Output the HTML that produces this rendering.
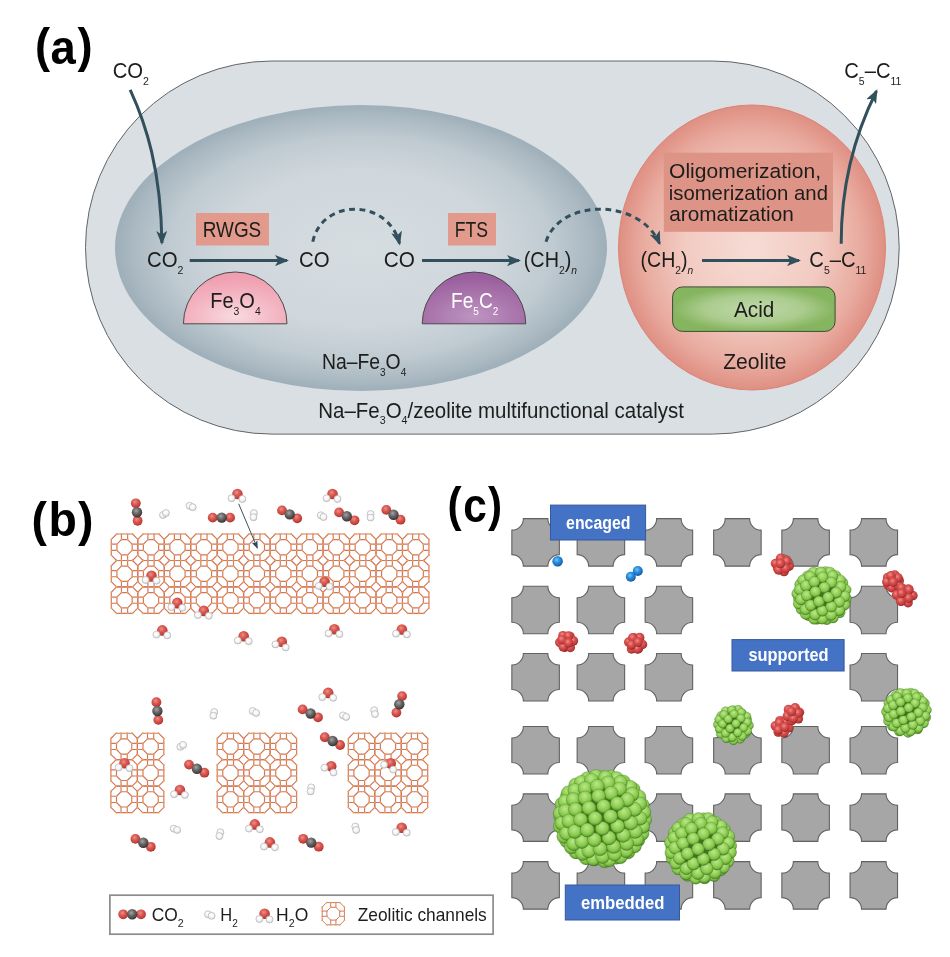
<!DOCTYPE html>
<html lang="en">
<head>
<meta charset="utf-8">
<title>Zeolite catalyst figure</title>
<style>
html,body{margin:0;padding:0;background:#fff;}
body{width:950px;height:957px;overflow:hidden;font-family:"Liberation Sans","DejaVu Sans",sans-serif;}
svg{display:block;}
</style>
</head>
<body>
<svg width="950" height="957" viewBox="0 0 950 957">
<defs>
<radialGradient id="gInner" cx="0.5" cy="0.5" r="0.5" fx="0.5" fy="0.5">
 <stop offset="0" stop-color="#d6dde1"/><stop offset="0.55" stop-color="#cfd7dc"/><stop offset="0.78" stop-color="#bfcad1"/><stop offset="0.92" stop-color="#acbac3"/><stop offset="1" stop-color="#9eafb9"/>
</radialGradient>
<radialGradient id="gRed" cx="0.5" cy="0.5" r="0.5">
 <stop offset="0" stop-color="#f6dcd5"/><stop offset="0.5" stop-color="#f2cbc2"/><stop offset="0.82" stop-color="#e9ab9f"/><stop offset="1" stop-color="#df8f83"/>
</radialGradient>
<radialGradient id="gPink" cx="0.5" cy="0.85" r="0.75">
 <stop offset="0" stop-color="#f9d9df"/><stop offset="0.6" stop-color="#f3b3c0"/><stop offset="1" stop-color="#ef9fb0"/>
</radialGradient>
<radialGradient id="gPurple" cx="0.5" cy="0.85" r="0.75">
 <stop offset="0" stop-color="#bd94c0"/><stop offset="0.6" stop-color="#a873ab"/><stop offset="1" stop-color="#9a5f9e"/>
</radialGradient>
<radialGradient id="gGreen" cx="0.5" cy="0.5" r="0.5" gradientTransform="translate(0.5 0.5) scale(1 1) translate(-0.5 -0.5)">
 <stop offset="0" stop-color="#bfd8a9"/><stop offset="0.6" stop-color="#abcc8e"/><stop offset="1" stop-color="#86b55f"/>
</radialGradient>
<marker id="ah" viewBox="0 0 14 11" refX="12" refY="5.5" markerWidth="14" markerHeight="11" markerUnits="userSpaceOnUse" orient="auto">
 <path d="M0 0 L14 5.5 L0 11 L3.4 5.5 Z" fill="#32505c"/>
</marker>

<radialGradient id="gO" cx="0.42" cy="0.36" r="0.62">
 <stop offset="0" stop-color="#ea9088"/><stop offset="0.5" stop-color="#d8554e"/><stop offset="0.85" stop-color="#c6403b"/><stop offset="1" stop-color="#a8302c"/>
</radialGradient>
<radialGradient id="gC" cx="0.42" cy="0.36" r="0.62">
 <stop offset="0" stop-color="#a5a3a3"/><stop offset="0.5" stop-color="#676565"/><stop offset="0.85" stop-color="#4a4848"/><stop offset="1" stop-color="#333131"/>
</radialGradient>
<radialGradient id="gH" cx="0.45" cy="0.4" r="0.6">
 <stop offset="0" stop-color="#ffffff"/><stop offset="0.5" stop-color="#f6f6f6"/><stop offset="0.85" stop-color="#e2e2e2"/><stop offset="1" stop-color="#c4c4c4"/>
</radialGradient>
<g id="zc"><path d="M5.29 0L21.18 0M21.18 0L26.47 5.29M26.47 5.29L26.47 21.18M26.47 21.18L21.18 26.47M21.18 26.47L5.29 26.47M5.29 26.47L0 21.18M0 21.18L0 5.29M0 5.29L5.29 0M10.14 5.61L16.33 5.61M16.33 5.61L20.86 10.14M20.86 10.14L20.86 16.33M20.86 16.33L16.33 20.86M16.33 20.86L10.14 20.86M10.14 20.86L5.61 16.33M5.61 16.33L5.61 10.14M5.61 10.14L10.14 5.61M10.14 0L10.14 5.61M16.33 0L16.33 5.61M0 10.14L5.61 10.14M0 16.33L5.61 16.33M10.14 26.47L10.14 20.86M16.33 26.47L16.33 20.86M26.47 10.14L20.86 10.14M26.47 16.33L20.86 16.33" fill="none" stroke="#cf7563" stroke-width="1.15" stroke-linecap="round"/><path d="M0 5.29h0.01M0 10.14h0.01M0 16.33h0.01M0 21.18h0.01M5.29 0h0.01M5.29 26.47h0.01M5.61 10.14h0.01M5.61 16.33h0.01M10.14 0h0.01M10.14 5.61h0.01M10.14 20.86h0.01M10.14 26.47h0.01M16.33 0h0.01M16.33 5.61h0.01M16.33 20.86h0.01M16.33 26.47h0.01M20.86 10.14h0.01M20.86 16.33h0.01M21.18 0h0.01M21.18 26.47h0.01M26.47 5.29h0.01M26.47 10.14h0.01M26.47 16.33h0.01M26.47 21.18h0.01" fill="none" stroke="#f2a336" stroke-width="1.7" stroke-linecap="round"/></g>
<marker id="ahs" viewBox="0 0 8 6" refX="7" refY="3" markerWidth="8" markerHeight="6" markerUnits="userSpaceOnUse" orient="auto">
 <path d="M0 0 L8 3 L0 6 L1.6 3 Z" fill="#2f4957"/>
</marker>

<radialGradient id="sG" cx="0.48" cy="0.41" r="0.62" fx="0.45" fy="0.32">
 <stop offset="0" stop-color="#bae88a"/><stop offset="0.4" stop-color="#9dd765"/><stop offset="0.66" stop-color="#88c84e"/><stop offset="0.82" stop-color="#6eae3a"/><stop offset="0.94" stop-color="#4c8425"/><stop offset="1" stop-color="#2f5a14"/>
</radialGradient>
<radialGradient id="sR" cx="0.42" cy="0.36" r="0.66">
 <stop offset="0" stop-color="#ee8f8a"/><stop offset="0.42" stop-color="#d8504e"/><stop offset="0.75" stop-color="#c23d3d"/><stop offset="0.92" stop-color="#a02a2c"/><stop offset="1" stop-color="#7a1a1d"/>
</radialGradient>
<radialGradient id="sB" cx="0.42" cy="0.36" r="0.66">
 <stop offset="0" stop-color="#74c4f6"/><stop offset="0.42" stop-color="#2a8fe0"/><stop offset="0.8" stop-color="#1a6cbd"/><stop offset="1" stop-color="#0e4785"/>
</radialGradient>
<path id="blk" d="M-12.25 -23.75H12.25A11.5 11.5 0 0 0 23.75 -12.25V12.25A11.5 11.5 0 0 0 12.25 23.75H-12.25A11.5 11.5 0 0 0 -23.75 12.25V-12.25A11.5 11.5 0 0 0 -12.25 -23.75Z" fill="#a6a6a6" stroke="#626262" stroke-width="1.1"/>
</defs>
<rect x="0" y="0" width="950" height="957" fill="#ffffff"/>
<g id="panel-a" font-family="'Liberation Sans','DejaVu Sans',sans-serif">
<rect x="85.5" y="61" width="813.7" height="373.1" rx="186.5" ry="186.5" fill="#d9dfe3" stroke="#636466" stroke-width="1"/>
<ellipse cx="361" cy="248" rx="246" ry="143" fill="url(#gInner)"/>
<ellipse cx="752" cy="247.5" rx="133.5" ry="142.5" fill="url(#gRed)" stroke="#dc8476" stroke-width="1"/>
<rect x="196" y="213" width="73" height="32.5" fill="#e19a8b"/>
<rect x="448" y="213" width="48" height="32.5" fill="#e19a8b"/>
<rect x="663.8" y="152.7" width="169.2" height="79.1" fill="#dd9386"/>
<path d="M183.4 323.8 A51.8 51.8 0 0 1 287 323.8 Z" fill="url(#gPink)" stroke="#4a4a4a" stroke-width="1"/>
<path d="M422.2 323.8 A51.8 51.8 0 0 1 525.8 323.8 Z" fill="url(#gPurple)" stroke="#4a4a4a" stroke-width="1"/>
<rect x="672.6" y="286.9" width="162.5" height="44.5" rx="10" ry="10" fill="url(#gGreen)" stroke="#3f4a3a" stroke-width="1"/>
<g fill="none" stroke="#32505c" stroke-width="3">
<path d="M130.2 89.8 C146 124 161 170 161.9 243" marker-end="url(#ah)"/>
<path d="M189.7 260.6 H287" marker-end="url(#ah)"/>
<path d="M422 260.6 H519" marker-end="url(#ah)"/>
<path d="M702 260.6 H799" marker-end="url(#ah)"/>
<path d="M841.2 243.7 C841 190 852 140 876.5 91" marker-end="url(#ah)"/>
<path d="M312.8 241.7 C322 198 388 198 399.5 243.5" stroke-dasharray="5.8 4.6" marker-end="url(#ah)"/>
<path d="M546 241.7 C560 198 640 198 659.5 243.5" stroke-dasharray="5.8 4.6" marker-end="url(#ah)"/>
</g>
<text transform="translate(112.69 78.3) scale(0.9127 1)" font-size="22.2" fill="#1d1d1b">CO<tspan font-size="11.54" dy="6.66">2</tspan></text>
<text transform="translate(844.29 77.9) scale(0.9092 1)" font-size="22.2" fill="#1d1d1b">C<tspan font-size="11.54" dy="6.66">5</tspan><tspan dy="-6.66">–C</tspan><tspan font-size="11.54" dy="6.66">11</tspan></text>
<text transform="translate(146.98 267) scale(0.9179 1)" font-size="22.2" fill="#1d1d1b">CO<tspan font-size="11.54" dy="6.66">2</tspan></text>
<text transform="translate(298.98 267) scale(0.9186 1)" font-size="22.2" fill="#1d1d1b" >CO</text>
<text transform="translate(383.86 267) scale(0.9346 1)" font-size="22.2" fill="#1d1d1b" >CO</text>
<text transform="translate(523.76 267) scale(0.8915 1)" font-size="22.2" fill="#1d1d1b">(CH<tspan font-size="11.54" dy="6.66">2</tspan><tspan dy="-6.66">)</tspan><tspan font-size="11.54" font-style="italic" dy="6.66">n</tspan></text>
<text transform="translate(640.48 267) scale(0.8828 1)" font-size="22.2" fill="#1d1d1b">(CH<tspan font-size="11.54" dy="6.66">2</tspan><tspan dy="-6.66">)</tspan><tspan font-size="11.54" font-style="italic" dy="6.66">n</tspan></text>
<text transform="translate(809.29 267) scale(0.9109 1)" font-size="22.2" fill="#1d1d1b">C<tspan font-size="11.54" dy="6.66">5</tspan><tspan dy="-6.66">–C</tspan><tspan font-size="11.54" dy="6.66">11</tspan></text>
<text transform="translate(202.74 237.1) scale(0.8523 1)" font-size="22.2" fill="#1d1d1b" >RWGS</text>
<text transform="translate(454.64 237.1) scale(0.7948 1)" font-size="22.2" fill="#1d1d1b" >FTS</text>
<text transform="translate(210.25 308.1) scale(0.9006 1)" font-size="22.2" fill="#1d1d1b">Fe<tspan font-size="11.54" dy="6.66">3</tspan><tspan dy="-6.66">O</tspan><tspan font-size="11.54" dy="6.66">4</tspan></text>
<text transform="translate(451.02 308.1) scale(0.8633 1)" font-size="22.2" fill="#ffffff">Fe<tspan font-size="11.54" dy="6.66">5</tspan><tspan dy="-6.66">C</tspan><tspan font-size="11.54" dy="6.66">2</tspan></text>
<text transform="translate(321.9 369) scale(0.8723 1)" font-size="22.2" fill="#1d1d1b">Na–Fe<tspan font-size="11.54" dy="6.66">3</tspan><tspan dy="-6.66">O</tspan><tspan font-size="11.54" dy="6.66">4</tspan></text>
<text transform="translate(318.31 417.5) scale(0.9224 1)" font-size="22.2" fill="#1d1d1b">Na–Fe<tspan font-size="11.54" dy="6.66">3</tspan><tspan dy="-6.66">O</tspan><tspan font-size="11.54" dy="6.66">4</tspan><tspan dy="-6.66">/zeolite multifunctional catalyst</tspan></text>
<text transform="translate(669.1 177.5) scale(1.0363 1)" font-size="20.3" fill="#1d1d1b" >Oligomerization,</text>
<text transform="translate(668.73 199.5) scale(1.0015 1)" font-size="20.3" fill="#1d1d1b" >isomerization and</text>
<text transform="translate(669.22 221.2) scale(1.0232 1)" font-size="20.3" fill="#1d1d1b" >aromatization</text>
<text transform="translate(733.95 316.7) scale(0.9344 1)" font-size="22.2" fill="#1d1d1b" >Acid</text>
<text transform="translate(723.21 369) scale(0.9502 1)" font-size="22.2" fill="#1d1d1b" >Zeolite</text>
</g>
<text transform="scale(0.9514 1)" x="36.9 53.12 81.43" y="62.36 63.79 62.36" font-size="47.75" font-weight="bold" fill="#000" font-family="'Liberation Sans','DejaVu Sans',sans-serif">(a)</text>
<g id="panel-b">
<use href="#zc" x="111.3" y="534"/><use href="#zc" x="137.77" y="534"/><use href="#zc" x="164.24" y="534"/><use href="#zc" x="190.71" y="534"/><use href="#zc" x="217.18" y="534"/><use href="#zc" x="243.65" y="534"/><use href="#zc" x="270.12" y="534"/><use href="#zc" x="296.59" y="534"/><use href="#zc" x="323.06" y="534"/><use href="#zc" x="349.53" y="534"/><use href="#zc" x="376" y="534"/><use href="#zc" x="402.47" y="534"/><use href="#zc" x="111.3" y="560.47"/><use href="#zc" x="137.77" y="560.47"/><use href="#zc" x="164.24" y="560.47"/><use href="#zc" x="190.71" y="560.47"/><use href="#zc" x="217.18" y="560.47"/><use href="#zc" x="243.65" y="560.47"/><use href="#zc" x="270.12" y="560.47"/><use href="#zc" x="296.59" y="560.47"/><use href="#zc" x="323.06" y="560.47"/><use href="#zc" x="349.53" y="560.47"/><use href="#zc" x="376" y="560.47"/><use href="#zc" x="402.47" y="560.47"/><use href="#zc" x="111.3" y="586.94"/><use href="#zc" x="137.77" y="586.94"/><use href="#zc" x="164.24" y="586.94"/><use href="#zc" x="190.71" y="586.94"/><use href="#zc" x="217.18" y="586.94"/><use href="#zc" x="243.65" y="586.94"/><use href="#zc" x="270.12" y="586.94"/><use href="#zc" x="296.59" y="586.94"/><use href="#zc" x="323.06" y="586.94"/><use href="#zc" x="349.53" y="586.94"/><use href="#zc" x="376" y="586.94"/><use href="#zc" x="402.47" y="586.94"/>
<use href="#zc" x="110.9" y="733.2"/><use href="#zc" x="137.37" y="733.2"/><use href="#zc" x="110.9" y="759.67"/><use href="#zc" x="137.37" y="759.67"/><use href="#zc" x="110.9" y="786.14"/><use href="#zc" x="137.37" y="786.14"/>
<use href="#zc" x="217.2" y="733.2"/><use href="#zc" x="243.67" y="733.2"/><use href="#zc" x="270.14" y="733.2"/><use href="#zc" x="217.2" y="759.67"/><use href="#zc" x="243.67" y="759.67"/><use href="#zc" x="270.14" y="759.67"/><use href="#zc" x="217.2" y="786.14"/><use href="#zc" x="243.67" y="786.14"/><use href="#zc" x="270.14" y="786.14"/>
<use href="#zc" x="348.3" y="733.2"/><use href="#zc" x="374.77" y="733.2"/><use href="#zc" x="401.24" y="733.2"/><use href="#zc" x="348.3" y="759.67"/><use href="#zc" x="374.77" y="759.67"/><use href="#zc" x="401.24" y="759.67"/><use href="#zc" x="348.3" y="786.14"/><use href="#zc" x="374.77" y="786.14"/><use href="#zc" x="401.24" y="786.14"/>
<path d="M238.7 503.8 L257.3 548" fill="none" stroke="#3a5361" stroke-width="1" marker-end="url(#ahs)"/>
<circle cx="135.8" cy="503.3" r="4.9" fill="url(#gO)"/><circle cx="137.6" cy="520.8" r="4.9" fill="url(#gO)"/><circle cx="137" cy="512.2" r="5.2" fill="url(#gC)"/>
<circle cx="163" cy="515" r="3.5" fill="url(#gH)" stroke="#b2b2b2" stroke-width="0.65"/><circle cx="165.9" cy="513" r="3.5" fill="url(#gH)" stroke="#b2b2b2" stroke-width="0.65"/>
<circle cx="189.5" cy="505.8" r="3.5" fill="url(#gH)" stroke="#b2b2b2" stroke-width="0.65"/><circle cx="192.7" cy="507.2" r="3.5" fill="url(#gH)" stroke="#b2b2b2" stroke-width="0.65"/>
<circle cx="212.7" cy="517.6" r="4.9" fill="url(#gO)"/><circle cx="230.1" cy="517.6" r="4.9" fill="url(#gO)"/><circle cx="221.7" cy="517.6" r="5.2" fill="url(#gC)"/>
<circle cx="237.4" cy="494" r="5.3" fill="url(#gO)"/><circle cx="231.5" cy="498.2" r="3.5" fill="url(#gH)" stroke="#b2b2b2" stroke-width="0.65"/><circle cx="242.4" cy="498.9" r="3.5" fill="url(#gH)" stroke="#b2b2b2" stroke-width="0.65"/>
<circle cx="253.9" cy="513.1" r="3.5" fill="url(#gH)" stroke="#b2b2b2" stroke-width="0.65"/><circle cx="253.5" cy="517.2" r="3.5" fill="url(#gH)" stroke="#b2b2b2" stroke-width="0.65"/>
<circle cx="282" cy="510.4" r="4.9" fill="url(#gO)"/><circle cx="297.2" cy="518.3" r="4.9" fill="url(#gO)"/><circle cx="289.7" cy="514.4" r="5.2" fill="url(#gC)"/>
<circle cx="332.5" cy="494" r="5.3" fill="url(#gO)"/><circle cx="326.6" cy="498.2" r="3.5" fill="url(#gH)" stroke="#b2b2b2" stroke-width="0.65"/><circle cx="337.5" cy="498.9" r="3.5" fill="url(#gH)" stroke="#b2b2b2" stroke-width="0.65"/>
<circle cx="320.8" cy="515.3" r="3.5" fill="url(#gH)" stroke="#b2b2b2" stroke-width="0.65"/><circle cx="323.5" cy="517" r="3.5" fill="url(#gH)" stroke="#b2b2b2" stroke-width="0.65"/>
<circle cx="339.1" cy="512.4" r="4.9" fill="url(#gO)"/><circle cx="354.5" cy="520.3" r="4.9" fill="url(#gO)"/><circle cx="346.8" cy="516.3" r="5.2" fill="url(#gC)"/>
<circle cx="370.6" cy="514" r="3.5" fill="url(#gH)" stroke="#b2b2b2" stroke-width="0.65"/><circle cx="370.6" cy="517.6" r="3.5" fill="url(#gH)" stroke="#b2b2b2" stroke-width="0.65"/>
<circle cx="386.3" cy="509.9" r="4.9" fill="url(#gO)"/><circle cx="400.5" cy="519.7" r="4.9" fill="url(#gO)"/><circle cx="393.5" cy="514.7" r="5.2" fill="url(#gC)"/>
<circle cx="151.5" cy="575.8" r="5.3" fill="url(#gO)"/><circle cx="145.6" cy="580" r="3.5" fill="url(#gH)" stroke="#b2b2b2" stroke-width="0.65"/><circle cx="156.5" cy="580.7" r="3.5" fill="url(#gH)" stroke="#b2b2b2" stroke-width="0.65"/>
<circle cx="177.3" cy="602.9" r="5.3" fill="url(#gO)"/><circle cx="171.4" cy="607.1" r="3.5" fill="url(#gH)" stroke="#b2b2b2" stroke-width="0.65"/><circle cx="182.3" cy="607.8" r="3.5" fill="url(#gH)" stroke="#b2b2b2" stroke-width="0.65"/>
<circle cx="203.8" cy="610.9" r="5.3" fill="url(#gO)"/><circle cx="197.9" cy="615.1" r="3.5" fill="url(#gH)" stroke="#b2b2b2" stroke-width="0.65"/><circle cx="208.8" cy="615.8" r="3.5" fill="url(#gH)" stroke="#b2b2b2" stroke-width="0.65"/>
<circle cx="162.3" cy="630.4" r="5.3" fill="url(#gO)"/><circle cx="156.4" cy="634.6" r="3.5" fill="url(#gH)" stroke="#b2b2b2" stroke-width="0.65"/><circle cx="167.3" cy="635.3" r="3.5" fill="url(#gH)" stroke="#b2b2b2" stroke-width="0.65"/>
<circle cx="243.7" cy="636.3" r="5.3" fill="url(#gO)"/><circle cx="237.8" cy="640.5" r="3.5" fill="url(#gH)" stroke="#b2b2b2" stroke-width="0.65"/><circle cx="248.7" cy="641.2" r="3.5" fill="url(#gH)" stroke="#b2b2b2" stroke-width="0.65"/>
<circle cx="324.6" cy="581.7" r="5.3" fill="url(#gO)"/><circle cx="318.7" cy="585.9" r="3.5" fill="url(#gH)" stroke="#b2b2b2" stroke-width="0.65"/><circle cx="329.6" cy="586.6" r="3.5" fill="url(#gH)" stroke="#b2b2b2" stroke-width="0.65"/>
<circle cx="334.4" cy="629.2" r="5.3" fill="url(#gO)"/><circle cx="328.5" cy="633.4" r="3.5" fill="url(#gH)" stroke="#b2b2b2" stroke-width="0.65"/><circle cx="339.4" cy="634.1" r="3.5" fill="url(#gH)" stroke="#b2b2b2" stroke-width="0.65"/>
<circle cx="401.9" cy="629.5" r="5.3" fill="url(#gO)"/><circle cx="396" cy="633.7" r="3.5" fill="url(#gH)" stroke="#b2b2b2" stroke-width="0.65"/><circle cx="406.9" cy="634.4" r="3.5" fill="url(#gH)" stroke="#b2b2b2" stroke-width="0.65"/>
<circle cx="281.8" cy="641.7" r="5.3" fill="url(#gO)"/><circle cx="275.4" cy="644.4" r="3.5" fill="url(#gH)" stroke="#b2b2b2" stroke-width="0.65"/><circle cx="285.7" cy="647.4" r="3.5" fill="url(#gH)" stroke="#b2b2b2" stroke-width="0.65"/>
<circle cx="156.4" cy="702.2" r="4.9" fill="url(#gO)"/><circle cx="158.3" cy="719.9" r="4.9" fill="url(#gO)"/><circle cx="157.4" cy="711" r="5.2" fill="url(#gC)"/>
<circle cx="214.2" cy="712" r="3.5" fill="url(#gH)" stroke="#b2b2b2" stroke-width="0.65"/><circle cx="213.4" cy="715.7" r="3.5" fill="url(#gH)" stroke="#b2b2b2" stroke-width="0.65"/>
<circle cx="252.7" cy="711" r="3.5" fill="url(#gH)" stroke="#b2b2b2" stroke-width="0.65"/><circle cx="256.1" cy="712.9" r="3.5" fill="url(#gH)" stroke="#b2b2b2" stroke-width="0.65"/>
<circle cx="180.3" cy="746.8" r="3.5" fill="url(#gH)" stroke="#b2b2b2" stroke-width="0.65"/><circle cx="183.1" cy="744.9" r="3.5" fill="url(#gH)" stroke="#b2b2b2" stroke-width="0.65"/>
<circle cx="124.5" cy="763.3" r="5.3" fill="url(#gO)"/><circle cx="118.6" cy="767.5" r="3.5" fill="url(#gH)" stroke="#b2b2b2" stroke-width="0.65"/><circle cx="129.5" cy="768.2" r="3.5" fill="url(#gH)" stroke="#b2b2b2" stroke-width="0.65"/>
<circle cx="189" cy="764.6" r="4.9" fill="url(#gO)"/><circle cx="204.4" cy="772.7" r="4.9" fill="url(#gO)"/><circle cx="196.9" cy="768.8" r="5.2" fill="url(#gC)"/>
<circle cx="179.9" cy="790" r="5.3" fill="url(#gO)"/><circle cx="174" cy="794.2" r="3.5" fill="url(#gH)" stroke="#b2b2b2" stroke-width="0.65"/><circle cx="184.9" cy="794.9" r="3.5" fill="url(#gH)" stroke="#b2b2b2" stroke-width="0.65"/>
<circle cx="173.7" cy="828.6" r="3.5" fill="url(#gH)" stroke="#b2b2b2" stroke-width="0.65"/><circle cx="177.1" cy="829.9" r="3.5" fill="url(#gH)" stroke="#b2b2b2" stroke-width="0.65"/>
<circle cx="135.4" cy="838.9" r="4.9" fill="url(#gO)"/><circle cx="150.8" cy="846.8" r="4.9" fill="url(#gO)"/><circle cx="143.3" cy="842.7" r="5.2" fill="url(#gC)"/>
<circle cx="220.4" cy="832.3" r="3.5" fill="url(#gH)" stroke="#b2b2b2" stroke-width="0.65"/><circle cx="219.4" cy="836.1" r="3.5" fill="url(#gH)" stroke="#b2b2b2" stroke-width="0.65"/>
<circle cx="254.8" cy="824.4" r="5.3" fill="url(#gO)"/><circle cx="248.9" cy="828.6" r="3.5" fill="url(#gH)" stroke="#b2b2b2" stroke-width="0.65"/><circle cx="259.8" cy="829.3" r="3.5" fill="url(#gH)" stroke="#b2b2b2" stroke-width="0.65"/>
<circle cx="269.9" cy="842.4" r="5.3" fill="url(#gO)"/><circle cx="264" cy="846.6" r="3.5" fill="url(#gH)" stroke="#b2b2b2" stroke-width="0.65"/><circle cx="274.9" cy="847.3" r="3.5" fill="url(#gH)" stroke="#b2b2b2" stroke-width="0.65"/>
<circle cx="328.2" cy="692.9" r="5.3" fill="url(#gO)"/><circle cx="322.3" cy="697.1" r="3.5" fill="url(#gH)" stroke="#b2b2b2" stroke-width="0.65"/><circle cx="333.2" cy="697.8" r="3.5" fill="url(#gH)" stroke="#b2b2b2" stroke-width="0.65"/>
<circle cx="302.6" cy="709.4" r="4.9" fill="url(#gO)"/><circle cx="318" cy="717.3" r="4.9" fill="url(#gO)"/><circle cx="310.6" cy="713.5" r="5.2" fill="url(#gC)"/>
<circle cx="343" cy="715.4" r="3.5" fill="url(#gH)" stroke="#b2b2b2" stroke-width="0.65"/><circle cx="346.2" cy="716.9" r="3.5" fill="url(#gH)" stroke="#b2b2b2" stroke-width="0.65"/>
<circle cx="374.2" cy="710.3" r="3.5" fill="url(#gH)" stroke="#b2b2b2" stroke-width="0.65"/><circle cx="375" cy="714.1" r="3.5" fill="url(#gH)" stroke="#b2b2b2" stroke-width="0.65"/>
<circle cx="402.1" cy="696.1" r="4.9" fill="url(#gO)"/><circle cx="396.4" cy="712.6" r="4.9" fill="url(#gO)"/><circle cx="399.3" cy="704.3" r="5.2" fill="url(#gC)"/>
<circle cx="324.8" cy="737.2" r="4.9" fill="url(#gO)"/><circle cx="340.1" cy="745" r="4.9" fill="url(#gO)"/><circle cx="332.6" cy="741" r="5.2" fill="url(#gC)"/>
<circle cx="331.2" cy="766.2" r="5.3" fill="url(#gO)"/><circle cx="324.4" cy="767.7" r="3.5" fill="url(#gH)" stroke="#b2b2b2" stroke-width="0.65"/><circle cx="333.5" cy="772.5" r="3.5" fill="url(#gH)" stroke="#b2b2b2" stroke-width="0.65"/>
<circle cx="390.7" cy="763.4" r="5.3" fill="url(#gO)"/><circle cx="384.1" cy="764.7" r="3.5" fill="url(#gH)" stroke="#b2b2b2" stroke-width="0.65"/><circle cx="393.2" cy="769.6" r="3.5" fill="url(#gH)" stroke="#b2b2b2" stroke-width="0.65"/>
<circle cx="311.2" cy="787.4" r="3.5" fill="url(#gH)" stroke="#b2b2b2" stroke-width="0.65"/><circle cx="310.6" cy="791.4" r="3.5" fill="url(#gH)" stroke="#b2b2b2" stroke-width="0.65"/>
<circle cx="355.3" cy="826.5" r="3.5" fill="url(#gH)" stroke="#b2b2b2" stroke-width="0.65"/><circle cx="356.2" cy="830" r="3.5" fill="url(#gH)" stroke="#b2b2b2" stroke-width="0.65"/>
<circle cx="401.7" cy="827.8" r="5.3" fill="url(#gO)"/><circle cx="395.8" cy="832" r="3.5" fill="url(#gH)" stroke="#b2b2b2" stroke-width="0.65"/><circle cx="406.7" cy="832.7" r="3.5" fill="url(#gH)" stroke="#b2b2b2" stroke-width="0.65"/>
<circle cx="303.2" cy="838.8" r="4.9" fill="url(#gO)"/><circle cx="318.7" cy="846.7" r="4.9" fill="url(#gO)"/><circle cx="311.2" cy="842.6" r="5.2" fill="url(#gC)"/>
<rect x="109.9" y="895.2" width="383.2" height="39" fill="#fff" stroke="#8c8c8c" stroke-width="1.7"/>
<circle cx="123.2" cy="914.3" r="4.9" fill="url(#gO)"/><circle cx="141" cy="914.3" r="4.9" fill="url(#gO)"/><circle cx="132.2" cy="914.3" r="5.2" fill="url(#gC)"/>
<circle cx="208" cy="914.3" r="3.5" fill="url(#gH)" stroke="#b2b2b2" stroke-width="0.65"/><circle cx="211.6" cy="915.8" r="3.5" fill="url(#gH)" stroke="#b2b2b2" stroke-width="0.65"/>
<circle cx="264.6" cy="913.7" r="5.3" fill="url(#gO)"/><circle cx="259.4" cy="919" r="3.5" fill="url(#gH)" stroke="#b2b2b2" stroke-width="0.65"/><circle cx="269.5" cy="919.4" r="3.5" fill="url(#gH)" stroke="#b2b2b2" stroke-width="0.65"/>
<g transform="translate(322.18 902.58) scale(0.84)"><use href="#zc"/></g>
<g font-family="'Liberation Sans','DejaVu Sans',sans-serif">
<text transform="translate(151.73 921.2) scale(0.9463 1)" font-size="18.4" fill="#1d1d1b">CO<tspan font-size="11.2" dy="5.6">2</tspan></text>
<text transform="translate(220.34 921.2) scale(0.8952 1)" font-size="18.4" fill="#1d1d1b">H<tspan font-size="11.2" dy="5.6">2</tspan></text>
<text transform="translate(276.06 921.2) scale(0.9513 1)" font-size="18.4" fill="#1d1d1b">H<tspan font-size="11.2" dy="5.6">2</tspan><tspan dy="-5.6">O</tspan></text>
<text transform="translate(357.74 921.2) scale(0.9426 1)" font-size="18.4" fill="#1d1d1b" >Zeolitic channels</text>
</g>
</g>
<text transform="scale(0.9746 1)" x="32.44 49.77 80.12" y="535.73 535.98 535.73" font-size="47.64" font-weight="bold" fill="#000" font-family="'Liberation Sans','DejaVu Sans',sans-serif">(b)</text>
<g id="panel-c" font-family="'Liberation Sans','DejaVu Sans',sans-serif">
<use href="#blk" x="535.6" y="542.4"/>
<use href="#blk" x="600.9" y="542.4"/>
<use href="#blk" x="668.9" y="542.4"/>
<use href="#blk" x="737.4" y="542.4"/>
<use href="#blk" x="805.6" y="542.4"/>
<use href="#blk" x="873.8" y="542.4"/>
<use href="#blk" x="535.6" y="610"/>
<use href="#blk" x="600.9" y="610"/>
<use href="#blk" x="668.9" y="610"/>
<use href="#blk" x="873.8" y="610"/>
<use href="#blk" x="535.6" y="677.3"/>
<use href="#blk" x="600.9" y="677.3"/>
<use href="#blk" x="668.9" y="677.3"/>
<use href="#blk" x="873.8" y="677.3"/>
<use href="#blk" x="535.6" y="750.3"/>
<use href="#blk" x="600.9" y="750.3"/>
<use href="#blk" x="668.9" y="750.3"/>
<use href="#blk" x="737.4" y="750.3"/>
<use href="#blk" x="805.6" y="750.3"/>
<use href="#blk" x="873.8" y="750.3"/>
<use href="#blk" x="535.6" y="817.6"/>
<use href="#blk" x="600.9" y="817.6"/>
<use href="#blk" x="668.9" y="817.6"/>
<use href="#blk" x="737.4" y="817.6"/>
<use href="#blk" x="805.6" y="817.6"/>
<use href="#blk" x="873.8" y="817.6"/>
<use href="#blk" x="535.6" y="885.4"/>
<use href="#blk" x="600.9" y="885.4"/>
<use href="#blk" x="668.9" y="885.4"/>
<use href="#blk" x="737.4" y="885.4"/>
<use href="#blk" x="805.6" y="885.4"/>
<use href="#blk" x="873.8" y="885.4"/>
<g fill="url(#sB)"><circle cx="557.6" cy="561.3" r="5.3"/></g>
<g fill="url(#sB)"><circle cx="630.8" cy="576.8" r="5"/><circle cx="637.8" cy="571" r="5"/></g>
<g fill="url(#sR)"><circle cx="564.84" cy="647.16" r="4.8"/><circle cx="569.96" cy="636.43" r="4.8"/><circle cx="559.8" cy="642.36" r="4.8"/><circle cx="562.97" cy="635.72" r="4.8"/><circle cx="566.6" cy="641.6" r="4.8"/><circle cx="570.23" cy="647.48" r="4.8"/><circle cx="573.4" cy="640.84" r="4.8"/><circle cx="563.24" cy="646.77" r="4.8"/><circle cx="568.36" cy="636.04" r="4.8"/><circle cx="562.08" cy="639.71" r="4.8"/><circle cx="568.53" cy="642.87" r="4.8"/></g>
<g fill="url(#sR)"><circle cx="633.95" cy="637.69" r="4.8"/><circle cx="638.41" cy="648.72" r="4.8"/><circle cx="628.78" cy="642.13" r="4.8"/><circle cx="631.54" cy="648.95" r="4.8"/><circle cx="635.6" cy="643.3" r="4.8"/><circle cx="639.66" cy="637.65" r="4.8"/><circle cx="642.42" cy="644.47" r="4.8"/><circle cx="632.79" cy="637.88" r="4.8"/><circle cx="637.25" cy="648.91" r="4.8"/><circle cx="631.3" cy="644.84" r="4.8"/><circle cx="638.02" cy="642.08" r="4.8"/></g>
<g fill="url(#sR)"><circle cx="777.74" cy="568.5" r="4.8"/><circle cx="785.99" cy="559.93" r="4.8"/><circle cx="783.99" cy="571.53" r="4.8"/><circle cx="789.09" cy="566.23" r="4.8"/><circle cx="782.3" cy="564.9" r="4.8"/><circle cx="775.51" cy="563.57" r="4.8"/><circle cx="780.61" cy="558.27" r="4.8"/><circle cx="778.61" cy="569.87" r="4.8"/><circle cx="786.86" cy="561.3" r="4.8"/><circle cx="785.63" cy="568.47" r="4.8"/><circle cx="780.38" cy="563.54" r="4.8"/></g>
<g fill="url(#sR)"><circle cx="895.1" cy="586.79" r="4.8"/><circle cx="888.02" cy="584.81" r="4.8"/><circle cx="899.19" cy="580.7" r="4.8"/><circle cx="887.73" cy="577.5" r="4.8"/><circle cx="894.64" cy="574.96" r="4.8"/><circle cx="893" cy="581.3" r="4.8"/><circle cx="891.36" cy="587.64" r="4.8"/><circle cx="898.27" cy="585.1" r="4.8"/><circle cx="886.81" cy="581.9" r="4.8"/><circle cx="897.98" cy="577.79" r="4.8"/><circle cx="890.9" cy="575.81" r="4.8"/><circle cx="893.14" cy="582.08" r="4.8"/></g>
<g fill="url(#sR)"><circle cx="900.49" cy="600.65" r="4.8"/><circle cx="908.37" cy="589.14" r="4.8"/><circle cx="908" cy="602.67" r="4.8"/><circle cx="912.87" cy="595.56" r="4.8"/><circle cx="904.7" cy="595.2" r="4.8"/><circle cx="896.53" cy="594.84" r="4.8"/><circle cx="901.4" cy="587.73" r="4.8"/><circle cx="901.03" cy="601.26" r="4.8"/><circle cx="908.91" cy="589.75" r="4.8"/><circle cx="908.68" cy="598.11" r="4.8"/><circle cx="901.59" cy="593.27" r="4.8"/></g>
<g fill="url(#sR)"><circle cx="779.99" cy="720.73" r="4.8"/><circle cx="778.23" cy="732" r="4.8"/><circle cx="775.38" cy="725.77" r="4.8"/><circle cx="782" cy="726.8" r="4.8"/><circle cx="788.62" cy="727.83" r="4.8"/><circle cx="785.77" cy="721.6" r="4.8"/><circle cx="784.01" cy="732.87" r="4.8"/><circle cx="779.4" cy="722.79" r="4.8"/><circle cx="778.32" cy="729.76" r="4.8"/><circle cx="784.73" cy="727.18" r="4.8"/></g>
<g fill="url(#sR)"><circle cx="799.43" cy="712.27" r="4.8"/><circle cx="791.68" cy="720.56" r="4.8"/><circle cx="788.49" cy="709.65" r="4.8"/><circle cx="793.4" cy="714.2" r="4.8"/><circle cx="798.31" cy="718.75" r="4.8"/><circle cx="795.12" cy="707.84" r="4.8"/><circle cx="787.37" cy="716.13" r="4.8"/><circle cx="798.1" cy="713.19" r="4.8"/><circle cx="793.31" cy="718.32" r="4.8"/><circle cx="791.34" cy="711.57" r="4.8"/></g>
<circle cx="821.8" cy="595.6" r="27.21" fill="#3f731d"/><g fill="url(#sG)" stroke="#3c6e1c" stroke-opacity="0.55" stroke-width="0.5"><circle cx="837.53" cy="584.29" r="5.55"/><circle cx="804.16" cy="604.35" r="5.55"/><circle cx="823.62" cy="615.33" r="5.55"/><circle cx="830.59" cy="577.61" r="5.55"/><circle cx="808.04" cy="581" r="5.55"/><circle cx="801.71" cy="589.34" r="5.55"/><circle cx="833.29" cy="613.68" r="5.55"/><circle cx="843.25" cy="591.36" r="5.55"/><circle cx="816.98" cy="573.76" r="5.55"/><circle cx="841.69" cy="606.12" r="5.55"/><circle cx="798.98" cy="598.58" r="5.55"/><circle cx="809" cy="615.22" r="5.55"/><circle cx="817.27" cy="618.77" r="5.55"/><circle cx="825.52" cy="572.1" r="5.55"/><circle cx="807.65" cy="576.32" r="5.55"/><circle cx="835.48" cy="575.94" r="5.55"/><circle cx="826.82" cy="619.14" r="5.55"/><circle cx="845.86" cy="598.29" r="5.55"/><circle cx="801.43" cy="608.72" r="5.55"/><circle cx="842.46" cy="582.91" r="5.55"/><circle cx="800.21" cy="584.51" r="5.55"/><circle cx="839.63" cy="612.34" r="5.55"/><circle cx="797.27" cy="593.7" r="5.55"/><circle cx="813.46" cy="572.52" r="5.55"/><circle cx="845.64" cy="589.83" r="5.55"/><circle cx="832.86" cy="617.47" r="5.55"/><circle cx="829.73" cy="572.45" r="5.55"/><circle cx="814.18" cy="618.78" r="5.55"/><circle cx="844.42" cy="604.66" r="5.55"/><circle cx="798.8" cy="603.59" r="5.55"/><circle cx="805.8" cy="613.94" r="5.55"/><circle cx="803.03" cy="580.35" r="5.55"/><circle cx="840" cy="580.23" r="5.55"/><circle cx="820.82" cy="572.38" r="5.55"/><circle cx="822.24" cy="618.65" r="5.55"/><circle cx="799.68" cy="589.54" r="5.55"/><circle cx="844.48" cy="596.23" r="5.55"/><circle cx="839.05" cy="610.22" r="5.55"/><circle cx="809.97" cy="576.5" r="5.55"/><circle cx="832.41" cy="575.97" r="5.55"/><circle cx="805.44" cy="609.28" r="5.55"/><circle cx="800.81" cy="599.33" r="5.55"/><circle cx="830.94" cy="614.86" r="5.55"/><circle cx="840.61" cy="586.86" r="5.55"/><circle cx="815.1" cy="614.62" r="5.55"/><circle cx="805.8" cy="585.73" r="5.55"/><circle cx="839.27" cy="601.85" r="5.55"/><circle cx="822.49" cy="577.2" r="5.55"/><circle cx="831.19" cy="582.43" r="5.55"/><circle cx="814.21" cy="581.82" r="5.55"/><circle cx="822.26" cy="610.77" r="5.55"/><circle cx="806.81" cy="595.54" r="5.55"/><circle cx="810.55" cy="605.35" r="5.55"/><circle cx="836.09" cy="592.58" r="5.55"/><circle cx="831.19" cy="606.64" r="5.55"/><circle cx="824.33" cy="587.52" r="5.55"/><circle cx="815.35" cy="591.75" r="5.55"/><circle cx="818.87" cy="601.56" r="5.55"/><circle cx="828.15" cy="597.42" r="5.55"/></g>
<circle cx="733.4" cy="724.7" r="17.87" fill="#3f731d"/><g fill="url(#sG)" stroke="#3c6e1c" stroke-opacity="0.55" stroke-width="0.5"><circle cx="721.49" cy="720.93" r="4.35"/><circle cx="745.71" cy="727.88" r="4.35"/><circle cx="739.4" cy="736.19" r="4.35"/><circle cx="727.39" cy="712.69" r="4.35"/><circle cx="725.57" cy="736.09" r="4.35"/><circle cx="720.11" cy="729.99" r="4.35"/><circle cx="732.62" cy="739.05" r="4.35"/><circle cx="742.16" cy="713.14" r="4.35"/><circle cx="734.25" cy="710.16" r="4.35"/><circle cx="747.26" cy="719.33" r="4.35"/><circle cx="745.59" cy="733.76" r="4.35"/><circle cx="721.02" cy="715.73" r="4.35"/><circle cx="717.71" cy="724.51" r="4.35"/><circle cx="749.15" cy="725.4" r="4.35"/><circle cx="740.18" cy="738.97" r="4.35"/><circle cx="738.35" cy="709.7" r="4.35"/><circle cx="720.65" cy="734.02" r="4.35"/><circle cx="725.52" cy="711.05" r="4.35"/><circle cx="733.43" cy="740.41" r="4.35"/><circle cx="746.57" cy="716.33" r="4.35"/><circle cx="726.21" cy="738.33" r="4.35"/><circle cx="747.32" cy="731.07" r="4.35"/><circle cx="719" cy="719.51" r="4.35"/><circle cx="731.76" cy="710" r="4.35"/><circle cx="719.45" cy="728.74" r="4.35"/><circle cx="741.16" cy="712.52" r="4.35"/><circle cx="742.03" cy="736.2" r="4.35"/><circle cx="747.07" cy="722.29" r="4.35"/><circle cx="723.85" cy="714.79" r="4.35"/><circle cx="732.16" cy="737.34" r="4.35"/><circle cx="725.49" cy="733.21" r="4.35"/><circle cx="722.51" cy="723.9" r="4.35"/><circle cx="743.53" cy="727.72" r="4.35"/><circle cx="733.92" cy="714.14" r="4.35"/><circle cx="740.77" cy="718.45" r="4.35"/><circle cx="737.73" cy="732.69" r="4.35"/><circle cx="728.11" cy="719.17" r="4.35"/><circle cx="729.93" cy="728.47" r="4.35"/><circle cx="735.94" cy="723.65" r="4.35"/></g>
<circle cx="906.6" cy="712.4" r="22.65" fill="#3f731d"/><g fill="url(#sG)" stroke="#3c6e1c" stroke-opacity="0.55" stroke-width="0.5"><circle cx="920.38" cy="704.1" r="4.75"/><circle cx="895.44" cy="700.04" r="4.75"/><circle cx="892.72" cy="721.62" r="4.75"/><circle cx="914.89" cy="697.84" r="4.75"/><circle cx="889.96" cy="707.49" r="4.75"/><circle cx="898.98" cy="728.55" r="4.75"/><circle cx="924.62" cy="710.81" r="4.75"/><circle cx="911.33" cy="730.15" r="4.75"/><circle cx="921.13" cy="723.89" r="4.75"/><circle cx="903.35" cy="693.96" r="4.75"/><circle cx="888.02" cy="716.1" r="4.75"/><circle cx="910.78" cy="692.96" r="4.75"/><circle cx="895.19" cy="696.07" r="4.75"/><circle cx="892.05" cy="726.05" r="4.75"/><circle cx="919.16" cy="696.85" r="4.75"/><circle cx="926.02" cy="717.31" r="4.75"/><circle cx="888.65" cy="703.29" r="4.75"/><circle cx="917.62" cy="729.28" r="4.75"/><circle cx="924.67" cy="703.46" r="4.75"/><circle cx="899.13" cy="731.29" r="4.75"/><circle cx="908.12" cy="732.69" r="4.75"/><circle cx="886.22" cy="711.73" r="4.75"/><circle cx="888.18" cy="721.01" r="4.75"/><circle cx="926.78" cy="709.99" r="4.75"/><circle cx="923.84" cy="723.1" r="4.75"/><circle cx="900.27" cy="693.13" r="4.75"/><circle cx="914.34" cy="693.77" r="4.75"/><circle cx="891.01" cy="699.9" r="4.75"/><circle cx="900.51" cy="730.99" r="4.75"/><circle cx="922.7" cy="701.33" r="4.75"/><circle cx="918.32" cy="727.84" r="4.75"/><circle cx="910.53" cy="731.36" r="4.75"/><circle cx="893.61" cy="726.43" r="4.75"/><circle cx="887.99" cy="708.27" r="4.75"/><circle cx="925.13" cy="715.9" r="4.75"/><circle cx="906.59" cy="693.55" r="4.75"/><circle cx="889.03" cy="717.3" r="4.75"/><circle cx="897.02" cy="696.9" r="4.75"/><circle cx="916.39" cy="697.35" r="4.75"/><circle cx="922.69" cy="707.55" r="4.75"/><circle cx="920.08" cy="720.88" r="4.75"/><circle cx="905.33" cy="728.09" r="4.75"/><circle cx="893.09" cy="705.27" r="4.75"/><circle cx="896.67" cy="723.14" r="4.75"/><circle cx="907.71" cy="698.26" r="4.75"/><circle cx="912.83" cy="724.87" r="4.75"/><circle cx="893.68" cy="714.26" r="4.75"/><circle cx="914.87" cy="703.4" r="4.75"/><circle cx="900.34" cy="702.18" r="4.75"/><circle cx="918.33" cy="712.7" r="4.75"/><circle cx="903.3" cy="720.15" r="4.75"/><circle cx="911.23" cy="716.83" r="4.75"/><circle cx="900.84" cy="711.3" r="4.75"/><circle cx="908.66" cy="707.85" r="4.75"/></g>
<circle cx="602.2" cy="818.4" r="45.89" fill="#3f731d"/><g fill="url(#sG)" stroke="#3c6e1c" stroke-opacity="0.55" stroke-width="0.5"><circle cx="633.09" cy="804.06" r="7.05"/><circle cx="636.3" cy="818.56" r="7.05"/><circle cx="591.15" cy="851.28" r="7.05"/><circle cx="572.19" cy="836.66" r="7.05"/><circle cx="571.82" cy="800.53" r="7.05"/><circle cx="566.42" cy="821.76" r="7.05"/><circle cx="602.56" cy="781.98" r="7.05"/><circle cx="635.74" cy="832.63" r="7.05"/><circle cx="619.44" cy="851.51" r="7.05"/><circle cx="626.5" cy="789.54" r="7.05"/><circle cx="616.8" cy="782.42" r="7.05"/><circle cx="564.7" cy="808.27" r="7.05"/><circle cx="605.23" cy="857.31" r="7.05"/><circle cx="586.65" cy="782.41" r="7.05"/><circle cx="630.21" cy="845.85" r="7.05"/><circle cx="641.15" cy="812.26" r="7.05"/><circle cx="635.86" cy="797.39" r="7.05"/><circle cx="575.77" cy="788.69" r="7.05"/><circle cx="574.19" cy="846.74" r="7.05"/><circle cx="564.22" cy="830.79" r="7.05"/><circle cx="584.79" cy="854.38" r="7.05"/><circle cx="641.85" cy="826.54" r="7.05"/><circle cx="599.47" cy="777.39" r="7.05"/><circle cx="616.21" cy="857.31" r="7.05"/><circle cx="594.12" cy="858.98" r="7.05"/><circle cx="567.38" cy="796" r="7.05"/><circle cx="560.73" cy="816.88" r="7.05"/><circle cx="637.84" cy="839.96" r="7.05"/><circle cx="566.71" cy="840.79" r="7.05"/><circle cx="610.59" cy="777.15" r="7.05"/><circle cx="623.32" cy="781.96" r="7.05"/><circle cx="642.24" cy="805.21" r="7.05"/><circle cx="633.11" cy="789.53" r="7.05"/><circle cx="627.89" cy="852.03" r="7.05"/><circle cx="587.36" cy="778.77" r="7.05"/><circle cx="604.58" cy="860.75" r="7.05"/><circle cx="644.65" cy="819.86" r="7.05"/><circle cx="576.09" cy="851.93" r="7.05"/><circle cx="562.09" cy="804.27" r="7.05"/><circle cx="575.76" cy="785.06" r="7.05"/><circle cx="560.37" cy="826.3" r="7.05"/><circle cx="586.18" cy="857.87" r="7.05"/><circle cx="642.01" cy="833.54" r="7.05"/><circle cx="638.95" cy="797.06" r="7.05"/><circle cx="634.38" cy="846.03" r="7.05"/><circle cx="620.36" cy="856.71" r="7.05"/><circle cx="616.32" cy="778.43" r="7.05"/><circle cx="595.77" cy="776.52" r="7.05"/><circle cx="568.46" cy="792.77" r="7.05"/><circle cx="563.85" cy="836.37" r="7.05"/><circle cx="560.26" cy="813.39" r="7.05"/><circle cx="643.88" cy="812.36" r="7.05"/><circle cx="571.36" cy="846.89" r="7.05"/><circle cx="608.97" cy="859.82" r="7.05"/><circle cx="629.96" cy="787.23" r="7.05"/><circle cx="581.31" cy="782.43" r="7.05"/><circle cx="593.31" cy="858.72" r="7.05"/><circle cx="642.65" cy="826.39" r="7.05"/><circle cx="605.48" cy="777.63" r="7.05"/><circle cx="565.09" cy="801.52" r="7.05"/><circle cx="561.86" cy="823.17" r="7.05"/><circle cx="636.64" cy="839.23" r="7.05"/><circle cx="582.46" cy="853.46" r="7.05"/><circle cx="620.2" cy="782.48" r="7.05"/><circle cx="626.07" cy="850.69" r="7.05"/><circle cx="639.6" cy="803.85" r="7.05"/><circle cx="591.48" cy="780.22" r="7.05"/><circle cx="574.82" cy="790.46" r="7.05"/><circle cx="566.55" cy="833.36" r="7.05"/><circle cx="632.04" cy="794.14" r="7.05"/><circle cx="602.51" cy="856.55" r="7.05"/><circle cx="573.66" cy="843.61" r="7.05"/><circle cx="639.98" cy="818.37" r="7.05"/><circle cx="614.6" cy="854.07" r="7.05"/><circle cx="565.38" cy="811.07" r="7.05"/><circle cx="608.01" cy="782.79" r="7.05"/><circle cx="635.21" cy="831.56" r="7.05"/><circle cx="588.77" cy="850.85" r="7.05"/><circle cx="626.59" cy="843.52" r="7.05"/><circle cx="573.23" cy="799.63" r="7.05"/><circle cx="585.16" cy="788.52" r="7.05"/><circle cx="619.47" cy="788.96" r="7.05"/><circle cx="634.57" cy="809.45" r="7.05"/><circle cx="568.85" cy="821.14" r="7.05"/><circle cx="597.25" cy="786.25" r="7.05"/><circle cx="627.34" cy="799.64" r="7.05"/><circle cx="581.83" cy="841.45" r="7.05"/><circle cx="600.12" cy="848.82" r="7.05"/><circle cx="574.71" cy="831.39" r="7.05"/><circle cx="613.63" cy="846.57" r="7.05"/><circle cx="630.81" cy="823" r="7.05"/><circle cx="575.46" cy="809.51" r="7.05"/><circle cx="623.37" cy="835.33" r="7.05"/><circle cx="610.99" cy="793.28" r="7.05"/><circle cx="585.11" cy="798.04" r="7.05"/><circle cx="594.31" cy="839.77" r="7.05"/><circle cx="624.42" cy="813.65" r="7.05"/><circle cx="598.58" cy="796.13" r="7.05"/><circle cx="580.51" cy="819.74" r="7.05"/><circle cx="617.28" cy="803.66" r="7.05"/><circle cx="608.96" cy="837.92" r="7.05"/><circle cx="587.24" cy="829.94" r="7.05"/><circle cx="617.6" cy="826.27" r="7.05"/><circle cx="588.96" cy="808.14" r="7.05"/><circle cx="603.71" cy="806.37" r="7.05"/><circle cx="602.31" cy="828.43" r="7.05"/><circle cx="610.58" cy="816.53" r="7.05"/><circle cx="595.16" cy="818.4" r="7.05"/></g>
<circle cx="700.6" cy="848" r="33.27" fill="#3f731d"/><g fill="url(#sG)" stroke="#3c6e1c" stroke-opacity="0.55" stroke-width="0.5"><circle cx="718.45" cy="831.69" r="6.35"/><circle cx="709.79" cy="824.93" r="6.35"/><circle cx="683.81" cy="829.52" r="6.35"/><circle cx="721.1" cy="863.02" r="6.35"/><circle cx="711.13" cy="871.56" r="6.35"/><circle cx="700.16" cy="874.1" r="6.35"/><circle cx="676.28" cy="838.41" r="6.35"/><circle cx="686.34" cy="870.47" r="6.35"/><circle cx="726.07" cy="838.73" r="6.35"/><circle cx="693.9" cy="821.35" r="6.35"/><circle cx="677.79" cy="863.83" r="6.35"/><circle cx="727.69" cy="854.48" r="6.35"/><circle cx="672.11" cy="847.89" r="6.35"/><circle cx="703.58" cy="819.02" r="6.35"/><circle cx="715.25" cy="822.54" r="6.35"/><circle cx="683.29" cy="824.26" r="6.35"/><circle cx="720.62" cy="869.5" r="6.35"/><circle cx="704.63" cy="877.47" r="6.35"/><circle cx="723.96" cy="829.51" r="6.35"/><circle cx="730.39" cy="845.69" r="6.35"/><circle cx="674.69" cy="833.09" r="6.35"/><circle cx="687.63" cy="874.99" r="6.35"/><circle cx="672.29" cy="857.9" r="6.35"/><circle cx="727.85" cy="861.08" r="6.35"/><circle cx="714" cy="875.17" r="6.35"/><circle cx="678.23" cy="868.43" r="6.35"/><circle cx="670.79" cy="842.61" r="6.35"/><circle cx="689.88" cy="819.67" r="6.35"/><circle cx="708.43" cy="818.78" r="6.35"/><circle cx="728.53" cy="836.42" r="6.35"/><circle cx="695.79" cy="877.83" r="6.35"/><circle cx="678.11" cy="828.25" r="6.35"/><circle cx="730.18" cy="852.27" r="6.35"/><circle cx="671.27" cy="852.63" r="6.35"/><circle cx="720.83" cy="826.32" r="6.35"/><circle cx="723.23" cy="867.09" r="6.35"/><circle cx="685.86" cy="873.44" r="6.35"/><circle cx="698.32" cy="818.88" r="6.35"/><circle cx="704.09" cy="876.94" r="6.35"/><circle cx="676.05" cy="862.97" r="6.35"/><circle cx="686.11" cy="823.65" r="6.35"/><circle cx="674.17" cy="837.83" r="6.35"/><circle cx="711.78" cy="822" r="6.35"/><circle cx="714.73" cy="872.39" r="6.35"/><circle cx="728.2" cy="842.94" r="6.35"/><circle cx="725.35" cy="858.29" r="6.35"/><circle cx="722.29" cy="832.99" r="6.35"/><circle cx="675.06" cy="847.88" r="6.35"/><circle cx="697.95" cy="873.19" r="6.35"/><circle cx="686.4" cy="868.32" r="6.35"/><circle cx="700.59" cy="823.5" r="6.35"/><circle cx="681.6" cy="833.28" r="6.35"/><circle cx="679.53" cy="858.14" r="6.35"/><circle cx="716.89" cy="863.7" r="6.35"/><circle cx="723.03" cy="848.91" r="6.35"/><circle cx="710.98" cy="828.5" r="6.35"/><circle cx="706.8" cy="868.59" r="6.35"/><circle cx="691.33" cy="828.65" r="6.35"/><circle cx="717.74" cy="838.98" r="6.35"/><circle cx="682.94" cy="843.4" r="6.35"/><circle cx="693.26" cy="863.7" r="6.35"/><circle cx="714.12" cy="854.27" r="6.35"/><circle cx="703.5" cy="834.01" r="6.35"/><circle cx="687.48" cy="853.64" r="6.35"/><circle cx="693.21" cy="838.88" r="6.35"/><circle cx="703.38" cy="859.12" r="6.35"/><circle cx="708.94" cy="844.32" r="6.35"/><circle cx="698.05" cy="849.13" r="6.35"/></g>
<rect x="550.5" y="505.1" width="95.1" height="34.9" fill="#4472c4" stroke="#35599f" stroke-width="1"/><text transform="translate(566.06 528.8) scale(0.9028 1)" font-size="17.6" font-weight="bold" fill="#ffffff" >encaged</text>
<rect x="732" y="639.6" width="112.1" height="31.4" fill="#4472c4" stroke="#35599f" stroke-width="1"/><text transform="translate(748.43 661) scale(0.9328 1)" font-size="17.6" font-weight="bold" fill="#ffffff" >supported</text>
<rect x="565.3" y="885" width="114.2" height="35" fill="#4472c4" stroke="#35599f" stroke-width="1"/><text transform="translate(580.93 908.8) scale(0.9495 1)" font-size="17.6" font-weight="bold" fill="#ffffff" >embedded</text>
</g>
<text transform="scale(0.897 1)" x="498.84 516.49 543.96" y="520.72 522.05 520.72" font-size="47.22" font-weight="bold" fill="#000" font-family="'Liberation Sans','DejaVu Sans',sans-serif">(c)</text>
</svg>
</body>
</html>
